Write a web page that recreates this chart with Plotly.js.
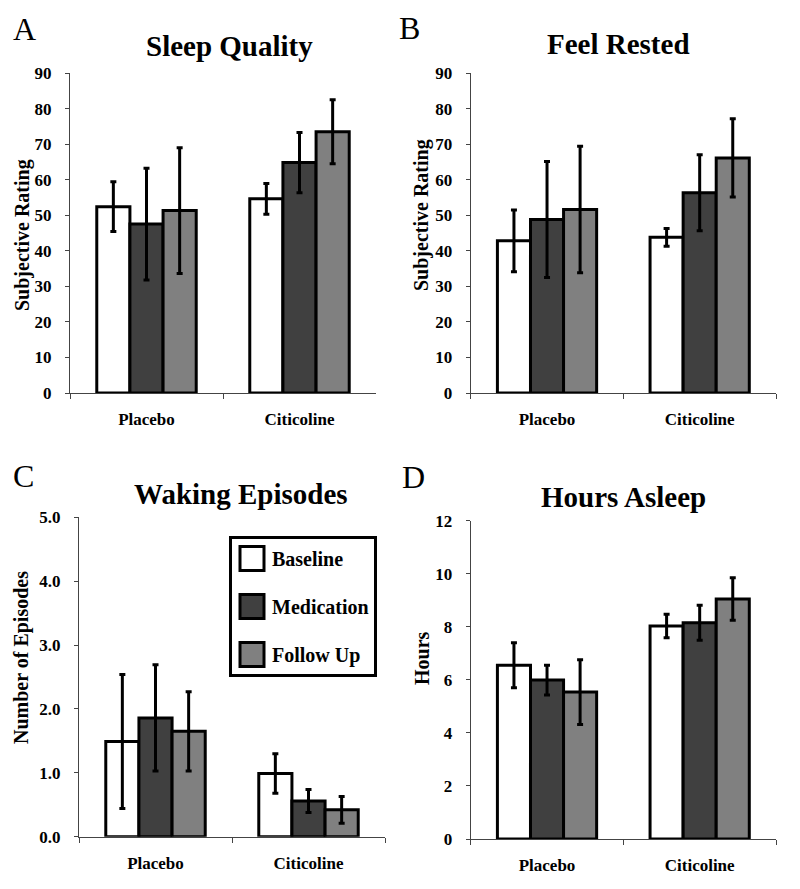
<!DOCTYPE html>
<html>
<head>
<meta charset="utf-8">
<script src="https://cdn.plot.ly/plotly-3.0.1.min.js"></script>
<style>html,body{margin:0;padding:0;background:#fff;}#chart{width:800px;height:889px;}</style>
</head>
<body>
<div id="chart"></div>
<script>
// ---- data ----
const categories = ['Placebo', 'Citicoline'];
const seriesNames = ['Baseline', 'Medication', 'Follow Up'];

const sleepQuality = [[52.4, 54.6], [47.5, 64.8], [51.3, 73.5]];
const sleepQualityErr = [[7.0, 4.3], [15.7, 8.5], [17.7, 9.0]];

const feelRested = [[42.8, 43.8], [48.8, 56.3], [51.6, 66.1]];
const feelRestedErr = [[8.7, 2.5], [16.3, 10.7], [17.8, 11.0]];

const wakingEpisodes = [[1.49, 0.99], [1.86, 0.56], [1.65, 0.42]];
const wakingEpisodesErr = [[1.05, 0.31], [0.83, 0.18], [0.62, 0.21]];

const hoursAsleep = [[6.55, 8.03], [5.99, 8.15], [5.54, 9.05]];
const hoursAsleepErr = [[0.85, 0.44], [0.56, 0.66], [1.22, 0.80]];

const panelTitles = ['Sleep Quality', 'Feel Rested', 'Waking Episodes', 'Hours Asleep'];
const panelLetters = ['A', 'B', 'C', 'D'];
const yTitles = ['Subjective Rating', 'Subjective Rating', 'Number of Episodes', 'Hours'];

// ---- styling ----
const colors = ['#ffffff', '#404040', '#808080'];
const FONT = '"Liberation Serif", "Times New Roman", Times, serif';

const panels = [
  {vals: sleepQuality, errs: sleepQualityErr, xa: 'x', ya: 'y'},
  {vals: feelRested, errs: feelRestedErr, xa: 'x2', ya: 'y2'},
  {vals: wakingEpisodes, errs: wakingEpisodesErr, xa: 'x3', ya: 'y3'},
  {vals: hoursAsleep, errs: hoursAsleepErr, xa: 'x4', ya: 'y4'}
];

const traces = [];
panels.forEach((p, pi) => {
  seriesNames.forEach((name, si) => {
    traces.push({
      type: 'bar',
      name: name,
      x: categories,
      y: p.vals[si],
      xaxis: p.xa,
      yaxis: p.ya,
      legendgroup: name,
      showlegend: pi === 2,
      marker: {color: colors[si], line: {color: '#000', width: 3}},
      error_y: {type: 'data', array: p.errs[si], visible: true, color: '#000', thickness: 3, width: 3}
    });
  });
});

function xAxis(domain, anchor) {
  return {
    domain: domain, anchor: anchor, type: 'category', range: [-0.5, 1.5],
    showline: true, linecolor: '#444', linewidth: 1,
    ticks: 'outside', tickson: 'boundaries', ticklen: 5, tickcolor: '#444', tickwidth: 1,
    ticklabelstandoff: 11,
    showgrid: false, zeroline: false, fixedrange: true,
    tickfont: {family: FONT, size: 17, color: '#000', weight: 'bold'}
  };
}
function yAxis(domain, anchor, range, dtick, fmt) {
  return {
    domain: domain, anchor: anchor, range: range, dtick: dtick, tick0: 0, tickformat: fmt,
    showline: true, linecolor: '#444', linewidth: 1,
    ticks: 'outside', ticklen: 4, tickcolor: '#444', tickwidth: 1,
    ticklabelstandoff: 10,
    showgrid: false, zeroline: false, fixedrange: true,
    tickfont: {family: FONT, size: 17, color: '#000', weight: 'bold'}
  };
}

const topY = [1 - 393 / 889, 1 - 73 / 889];
const botYc = [1 - 836.7 / 889, 1 - 517.3 / 889];
const botYd = [1 - 839 / 889, 1 - 520.7 / 889];

const annotations = [];
const titlePos = [[230, 46], [618, 44], [241, 494], [623, 497]];
const letterPos = [[24, 29], [410, 28], [23, 476], [414, 477]];
const yTitlePos = [[22, 235], [422, 215], [21, 658], [422, 658]];
panelTitles.forEach((t, i) => {
  annotations.push({
    text: t, xref: 'paper', yref: 'paper', x: titlePos[i][0] / 800, y: 1 - titlePos[i][1] / 889,
    xanchor: 'center', yanchor: 'middle', showarrow: false,
    font: {family: FONT, size: 29, color: '#000', weight: 'bold'}
  });
  annotations.push({
    text: panelLetters[i], xref: 'paper', yref: 'paper', x: letterPos[i][0] / 800, y: 1 - letterPos[i][1] / 889,
    xanchor: 'center', yanchor: 'middle', showarrow: false,
    font: {family: FONT, size: 32, color: '#000'}
  });
  annotations.push({
    text: yTitles[i], xref: 'paper', yref: 'paper', x: yTitlePos[i][0] / 800, y: 1 - yTitlePos[i][1] / 889,
    xanchor: 'center', yanchor: 'middle', showarrow: false, textangle: -90,
    font: {family: FONT, size: 20, color: '#000', weight: 'bold'}
  });
});

const layout = {
  width: 800, height: 889,
  margin: {l: 0, r: 0, t: 0, b: 0},
  paper_bgcolor: '#fff', plot_bgcolor: '#fff',
  barmode: 'group', bargap: 0.35, bargroupgap: 0,
  font: {family: FONT, color: '#000'},
  xaxis: xAxis([70 / 800, 376 / 800], 'y'),
  yaxis: yAxis(topY, 'x', [0, 90], 10, ''),
  xaxis2: xAxis([470.7 / 800, 776 / 800], 'y2'),
  yaxis2: yAxis(topY, 'x2', [0, 90], 10, ''),
  xaxis3: xAxis([79 / 800, 385 / 800], 'y3'),
  yaxis3: yAxis(botYc, 'x3', [0, 5], 1, '.1f'),
  xaxis4: xAxis([470.7 / 800, 776 / 800], 'y4'),
  yaxis4: yAxis(botYd, 'x4', [0, 12], 2, ''),
  showlegend: true,
  legend: {
    x: 229 / 800, y: 1 - 536 / 889, xanchor: 'left', yanchor: 'top',
    bgcolor: '#fff', bordercolor: '#000', borderwidth: 3,
    traceorder: 'grouped', tracegroupgap: 19,
    font: {family: FONT, size: 20, color: '#000', weight: 'bold'}
  },
  annotations: annotations
};

Plotly.newPlot('chart', traces, layout, {displayModeBar: false, staticPlot: true}).then(gd => {
  // enlarge legend swatches to match the reference's larger boxes
  gd.querySelectorAll('.legend .legendpoints path').forEach(p => {
    const t = p.getAttribute('transform') || '';
    p.setAttribute('transform', t + ' scale(2)');
    p.style.strokeWidth = '1.5px';
  });
});
</script>
</body>
</html>
